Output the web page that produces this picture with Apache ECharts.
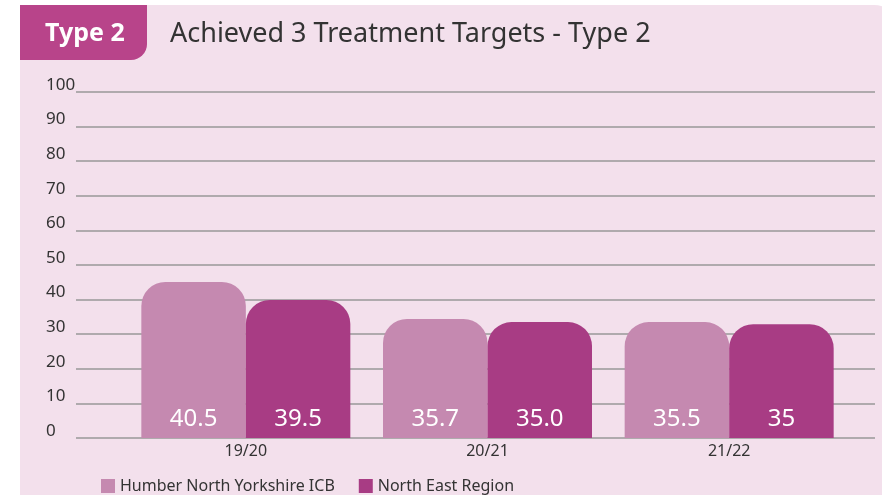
<!DOCTYPE html>
<html>
<head>
<meta charset="utf-8">
<script src="https://cdn.jsdelivr.net/npm/echarts@6/dist/echarts.min.js"></script>
<style>
  html, body { margin: 0; padding: 0; background: #fff; }
  #chart { width: 882px; height: 495px; }
</style>
</head>
<body>
<div id="chart"></div>
<script>
// data
const categories = ['19/20', '20/21', '21/22']
const seriesNames = ['Humber North Yorkshire ICB', 'North East Region']
// bar heights as drawn in the reference
const hnyHeights = [45.1, 34.4, 33.5]
const neHeights = [39.9, 33.5, 32.9]
// the printed values inside the bars
const hnyLabels = ['40.5', '35.7', '35.5']
const neLabels = ['39.5', '35.0', '35']
const yTicks = [0, 10, 20, 30, 40, 50, 60, 70, 80, 90, 100]

const font = 'Noto Sans'
const colors = ['#c589b0', '#a83c84']

const chart = echarts.init(document.getElementById('chart'))

function barSeries(name, heights, labels, color) {
  return {
    name: name,
    type: 'bar',
    xAxisIndex: 1,
    yAxisIndex: 1,
    data: heights,
    barWidth: 104.5,
    barGap: '0%',
    itemStyle: { color: color, borderRadius: [24, 24, 0, 0] },
    label: {
      show: true,
      position: 'insideBottom',
      distance: 7,
      color: '#fff',
      fontFamily: font,
      fontSize: 24,
      formatter: function(p) { return labels[p.dataIndex] }
    }
  }
}

const option = {
  animation: false,
  backgroundColor: '#fff',
  textStyle: { fontFamily: font },
  graphic: [
    {
      type: 'rect', z: -10, silent: true,
      shape: { x: 20, y: 5, width: 880, height: 500, r: [0, 26, 0, 0] },
      style: { fill: '#f3e0ec' }
    },
    {
      type: 'rect', z: -5, silent: true,
      shape: { x: 20, y: 5, width: 127, height: 55, r: [0, 0, 16, 0] },
      style: { fill: '#b8448a' }
    },
    {
      type: 'text', x: 45, y: 34,
      style: { text: 'Type 2', fill: '#fff', font: 'bold 25px "Noto Sans"', verticalAlign: 'middle' }
    },
    {
      type: 'text', x: 170, y: 34,
      style: { text: 'Achieved 3 Treatment Targets - Type 2', fill: '#333', font: '27px "Noto Sans"', verticalAlign: 'middle' }
    }
  ],
  legend: {
    data: seriesNames,
    left: 96,
    top: 473,
    icon: 'rect',
    itemWidth: 14,
    itemHeight: 14,
    itemGap: 24,
    textStyle: { color: '#333', fontSize: 16, fontFamily: font }
  },
  grid: [
    { left: 76, right: 7, top: 92, bottom: 57 },
    { left: 125, right: 32, top: 92, bottom: 57 }
  ],
  xAxis: [
    { type: 'category', gridIndex: 0, data: categories, show: false },
    {
      type: 'category', gridIndex: 1, data: categories,
      axisLine: { show: false },
      axisTick: { show: false },
      axisLabel: { color: '#333', fontSize: 16, margin: 5, fontFamily: font }
    }
  ],
  yAxis: [
    {
      type: 'value', gridIndex: 0,
      min: yTicks[0], max: yTicks[yTicks.length - 1], interval: 10,
      axisLine: { show: false },
      axisTick: { show: false },
      axisLabel: {
        align: 'left',
        margin: 30,
        verticalAlign: 'bottom',
        lineHeight: 14,
        color: '#333',
        fontSize: 17,
        fontFamily: font
      },
      splitLine: { lineStyle: { color: '#999', width: 1.5 } }
    },
    {
      type: 'value', gridIndex: 1,
      min: yTicks[0], max: yTicks[yTicks.length - 1],
      show: false,
      splitLine: { show: false }
    }
  ],
  series: [
    barSeries(seriesNames[0], hnyHeights, hnyLabels, colors[0]),
    barSeries(seriesNames[1], neHeights, neLabels, colors[1])
  ]
}

chart.setOption(option)
</script>
</body>
</html>
